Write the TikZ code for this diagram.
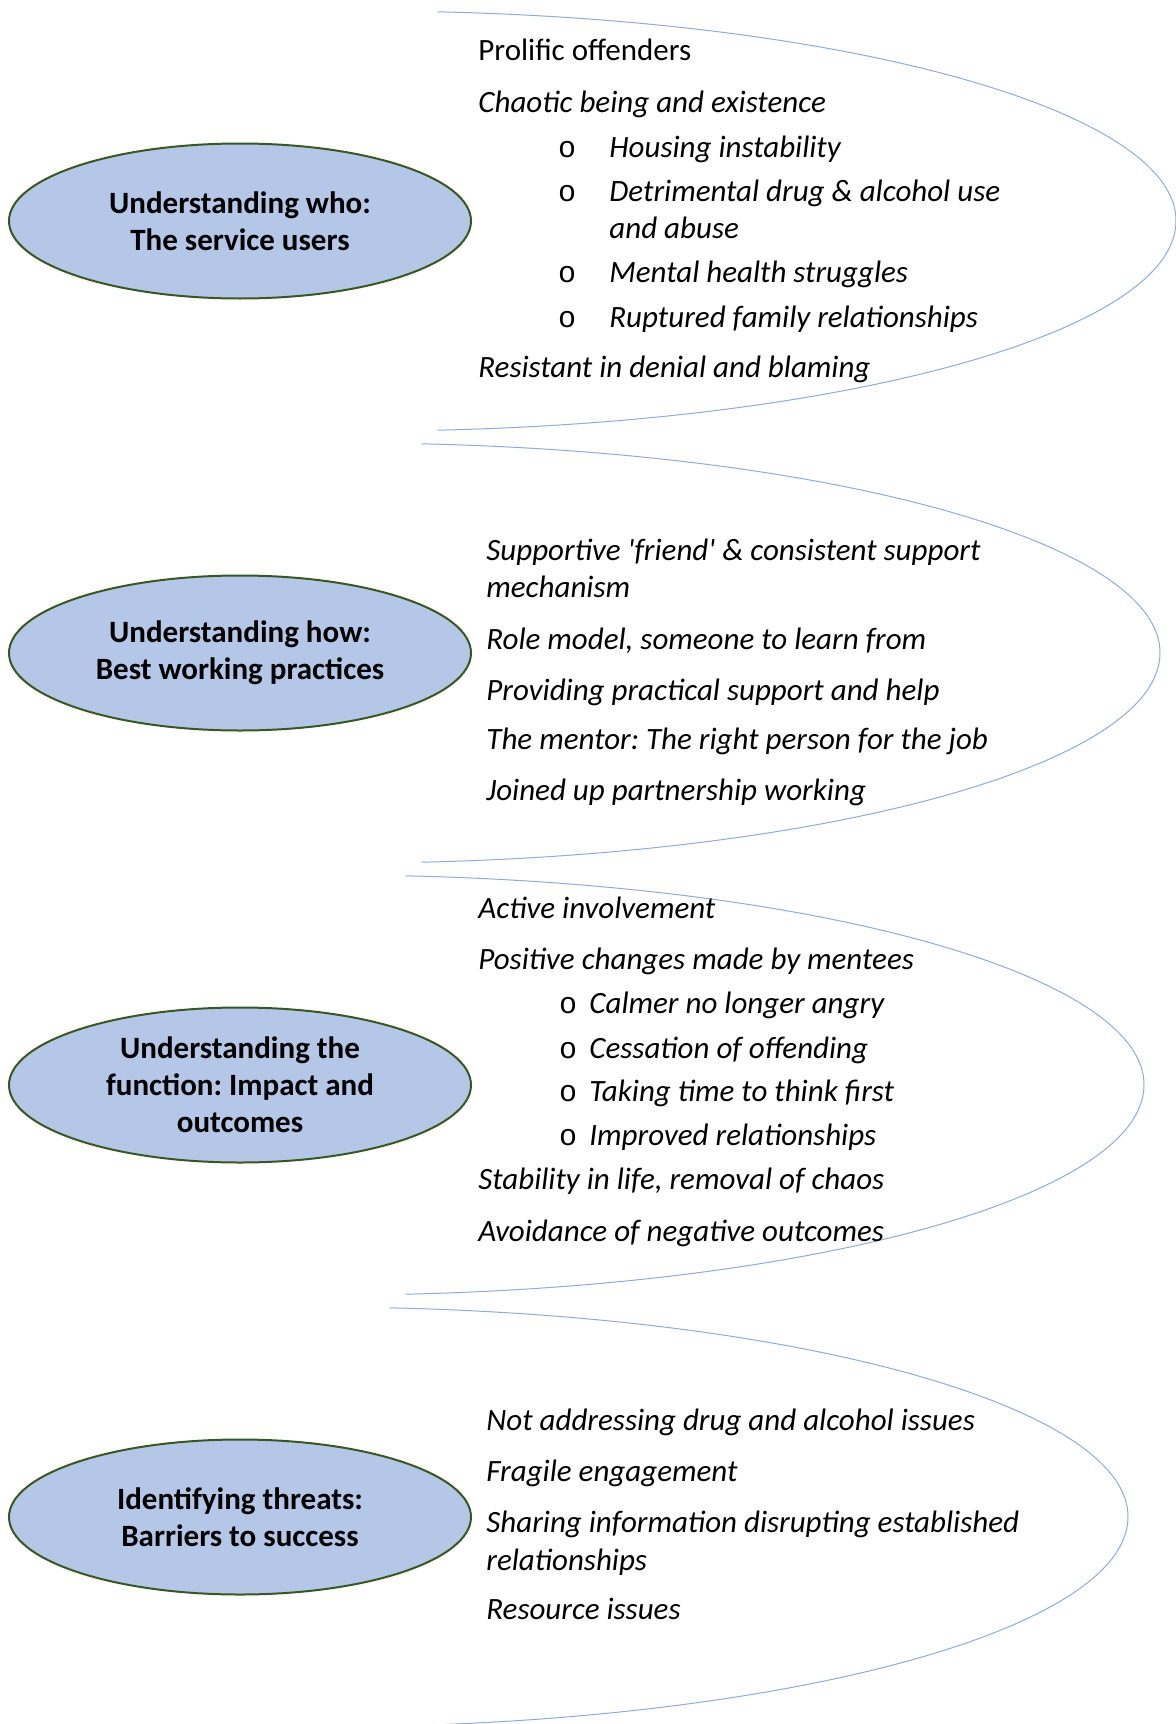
\documentclass[tikz,border=0pt]{standalone}
\usepackage{fontspec}
\setmainfont{Carlito}
\newfontfamily\bulletfont{Liberation Mono}
\usepackage{xcolor}
\usetikzlibrary{shapes.geometric}
\definecolor{ovalfill}{RGB}{180,199,231}
\definecolor{ovalline}{RGB}{56,87,35}
\definecolor{arcline}{RGB}{143,170,220}
\frenchspacing
\tikzset{
  oval/.style={ellipse, draw=ovalline, line width=1pt, fill=ovalfill,
    minimum width=231pt, minimum height=77.5pt, inner sep=0pt, align=center,
    font=\fontsize{15.5}{18.5}\selectfont\bfseries},
  entry/.style={anchor=base west, inner sep=0pt, font=\fontsize{15.5}{18.5}\selectfont\itshape},
  bullet/.style={anchor=base, inner sep=0pt, font=\fontsize{15}{18}\bulletfont}
}

\begin{document}
\begin{tikzpicture}[x=0.5pt,y=-0.5pt]
\useasboundingbox (0,0) rectangle (1176,1724);

% the four themes
\node[oval] (who) at (240,221) {Understanding who:\\The service users};
\node[oval] (how) at (240,653) {Understanding how:\\Best working practices};
\node[oval] (function) at (240,1085) {Understanding the\\function: Impact and\\outcomes};
\node[oval] (threats) at (240,1517) {Identifying threats:\\Barriers to success};

% open brackets round each list
\draw[arcline, line width=0.5pt] (437.5,11.8) arc[start angle=-85, end angle=85, x radius=809, y radius=210];
\draw[arcline, line width=0.5pt] (421.5,443.8) arc[start angle=-85, end angle=85, x radius=809, y radius=210];
\draw[arcline, line width=0.5pt] (405.5,875.8) arc[start angle=-85, end angle=85, x radius=809, y radius=210];
\draw[arcline, line width=0.5pt] (389.5,1307.8) arc[start angle=-85, end angle=85, x radius=809, y radius=210];

% service users
\node[entry, font=\fontsize{15.5}{18.5}\selectfont] (who1) at (478,61) {Prolific offenders};
\node[entry] (who2) at (478,112) {Chaotic being and existence};
\node[bullet] (whob1) at (567,157) {o};
\node[entry] (who3) at (609,157) {Housing instability};
\node[bullet] (whob2) at (567,201) {o};
\node[entry] (who4) at (609,201) {Detrimental drug \& alcohol use};
\node[entry] (who5) at (609,238) {and abuse};
\node[bullet] (whob3) at (567,282) {o};
\node[entry] (who6) at (609,282) {Mental health struggles};
\node[bullet] (whob4) at (567,327) {o};
\node[entry] (who7) at (609,327) {Ruptured family relationships};
\node[entry] (who8) at (478,377) {Resistant in denial and blaming};

% working practices
\node[entry] (how1) at (486,560) {Supportive \textquotesingle friend\textquotesingle{} \& consistent support};
\node[entry] (how2) at (486,597) {mechanism};
\node[entry] (how3) at (486,649) {Role model, someone to learn from};
\node[entry] (how4) at (486,700) {Providing practical support and help};
\node[entry] (how5) at (486,749) {The mentor: The right person for the job};
\node[entry] (how6) at (486,800) {Joined up partnership working};

% impact and outcomes
\node[entry] (fun1) at (478,918) {Active involvement};
\node[entry] (fun2) at (478,969) {Positive changes made by mentees};
\node[bullet] (funb1) at (568,1013) {o};
\node[entry] (fun3) at (589,1013) {Calmer no longer angry};
\node[bullet] (funb2) at (568,1058) {o};
\node[entry] (fun4) at (589,1058) {Cessation of offending};
\node[bullet] (funb3) at (568,1101) {o};
\node[entry] (fun5) at (589,1101) {Taking time to think first};
\node[bullet] (funb4) at (568,1145) {o};
\node[entry] (fun6) at (589,1145) {Improved relationships};
\node[entry] (fun7) at (478,1189) {Stability in life, removal of chaos};
\node[entry] (fun8) at (478,1241) {Avoidance of negative outcomes};

% barriers
\node[entry] (thr1) at (486,1430) {Not addressing drug and alcohol issues};
\node[entry] (thr2) at (486,1481) {Fragile engagement};
\node[entry] (thr3) at (486,1532) {Sharing information disrupting established};
\node[entry] (thr4) at (486,1570) {relationships};
\node[entry] (thr5) at (486,1619) {Resource issues};
\end{tikzpicture}
\end{document}
